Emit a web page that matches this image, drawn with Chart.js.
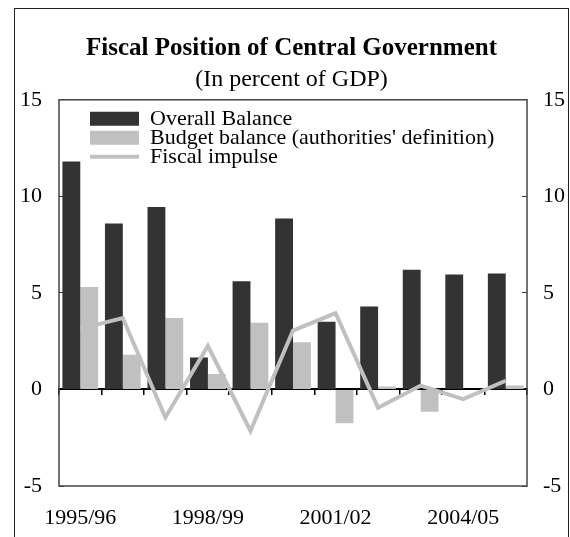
<!DOCTYPE html>
<html>
<head>
<meta charset="utf-8">
<script src="https://cdn.jsdelivr.net/npm/chart.js@4.4.1/dist/chart.umd.min.js"></script>
<style>
    html, body { margin: 0; padding: 0; background: #fff; overflow: hidden; }
    #frame {
        position: absolute; left: 14px; top: 8px;
        width: 553px; height: 540px;
        border: 1px solid #222; border-bottom: none;
    }
    #chart { display: block; }
</style>
</head>
<body>
<div id="frame"><canvas id="chart" width="553" height="528"></canvas></div>
<script>
// ====================== DATA ======================
const years = ['1995/96', '1996/97', '1997/98', '1998/99', '1999/00', '2000/01',
               '2001/02', '2002/03', '2003/04', '2004/05', '2005/06'];
const overallBalance = [11.8, 8.6, 9.45, 1.65, 5.6, 8.85, 3.5, 4.3, 6.2, 5.95, 6.0];
const budgetBalance  = [5.3, 1.8, 3.7, 0.8, 3.45, 2.45, -1.75, 0.15, -1.15, 0, 0.2];
const fiscalImpulse  = [3.15, 3.7, -1.45, 2.25, -2.15, 3.05, 3.95, -0.95, 0.2, -0.5, 0.45];
const yTicks = [-5, 0, 5, 10, 15];

const SERIF = "'Liberation Serif', 'Times New Roman', serif";
const DARK = '#333333';
const LIGHT = '#c0c0c0';

Chart.defaults.font.family = SERIF;
Chart.defaults.color = '#000';

// legend sits inside the plot, nudged off the top-left corner
const LEGEND_DX = 31;
const LEGEND_DY = 11;

const plotFrame = {
    id: 'plotFrame',
    afterLayout(chart) {
        const a = chart.chartArea;
        chart.legend.left = a.left + LEGEND_DX;
        chart.legend.top = a.top + LEGEND_DY;
        chart.legend.bottom = a.bottom;
    },
    beforeDatasetsDraw(chart) {
        const { ctx, chartArea: a } = chart;
        ctx.save();
        ctx.strokeStyle = '#444';
        ctx.lineWidth = 1.5;
        ctx.strokeRect(a.left, a.top, a.right - a.left, a.bottom - a.top);
        ctx.restore();
    }
};

const sideAxis = (position, width, padding) => ({
    type: 'linear',
    position,
    min: yTicks[0],
    max: yTicks[yTicks.length - 1],
    afterBuildTicks: scale => { scale.ticks = yTicks.map(value => ({ value })); },
    afterFit: scale => { scale.width = width; },
    grid: { drawOnChartArea: false, tickLength: -5, color: '#333', lineWidth: 1 },
    border: { display: false },
    ticks: { padding, font: { size: 22 } }
});

new Chart(document.getElementById('chart').getContext('2d'), {
    type: 'bar',
    data: {
        labels: years,
        datasets: [
            { label: 'Overall Balance', data: overallBalance, backgroundColor: DARK, borderWidth: 0, order: 1,
              categoryPercentage: 0.84, barPercentage: 1 },
            { label: "Budget balance (authorities' definition)", data: budgetBalance, backgroundColor: LIGHT, borderWidth: 0, order: 1,
              categoryPercentage: 0.84, barPercentage: 1 },
            { type: 'line', label: 'Fiscal impulse', data: fiscalImpulse, borderColor: LIGHT, backgroundColor: LIGHT,
              borderWidth: 4, pointRadius: 0, tension: 0, order: 0 }
        ]
    },
    options: {
        responsive: false,
        animation: false,
        devicePixelRatio: 1,
        layout: { padding: 0 },
        plugins: {
            title: {
                display: true,
                text: 'Fiscal Position of Central Government',
                font: { size: 25, weight: 'bold' },
                color: '#000',
                padding: { top: 25, bottom: 0 }
            },
            subtitle: {
                display: true,
                text: '(In percent of GDP)',
                font: { size: 24, weight: 'normal' },
                color: '#000',
                padding: { top: 1, bottom: 6 }
            },
            legend: {
                position: 'chartArea',
                align: 'start',
                labels: {
                    usePointStyle: true,
                    pointStyleWidth: 52,
                    boxHeight: 14,
                    padding: -3,
                    color: '#000',
                    font: { size: 22 },
                    sort: (a, b) => a.datasetIndex - b.datasetIndex,
                    generateLabels: chart => Chart.defaults.plugins.legend.labels.generateLabels(chart)
                        .map(item => ({ ...item, pointStyle: item.datasetIndex === 2 ? 'line' : 'rect' }))
                }
            },
            tooltip: { enabled: false }
        },
        scales: {
            x: {
                offset: true,
                grid: { display: false },
                border: { display: false },
                afterFit: scale => { scale.height = 51; },
                ticks: {
                    autoSkip: false,
                    maxRotation: 0,
                    padding: 11,
                    font: { size: 22 },
                    callback: (value, i) => i % 3 === 0 ? years[i] : ''
                }
            },
            // zero line with small tick marks between the years
            x2: {
                type: 'category',
                position: { y: 0 },
                offset: true,
                ticks: { display: false },
                grid: { drawOnChartArea: false, offset: true, tickLength: 5, color: '#000', lineWidth: 1.5 },
                border: { display: true, color: '#000', width: 2 }
            },
            y: sideAxis('left', 44, 22),
            y2: sideAxis('right', 41, 21)
        }
    },
    plugins: [plotFrame]
});
</script>
</body>
</html>
